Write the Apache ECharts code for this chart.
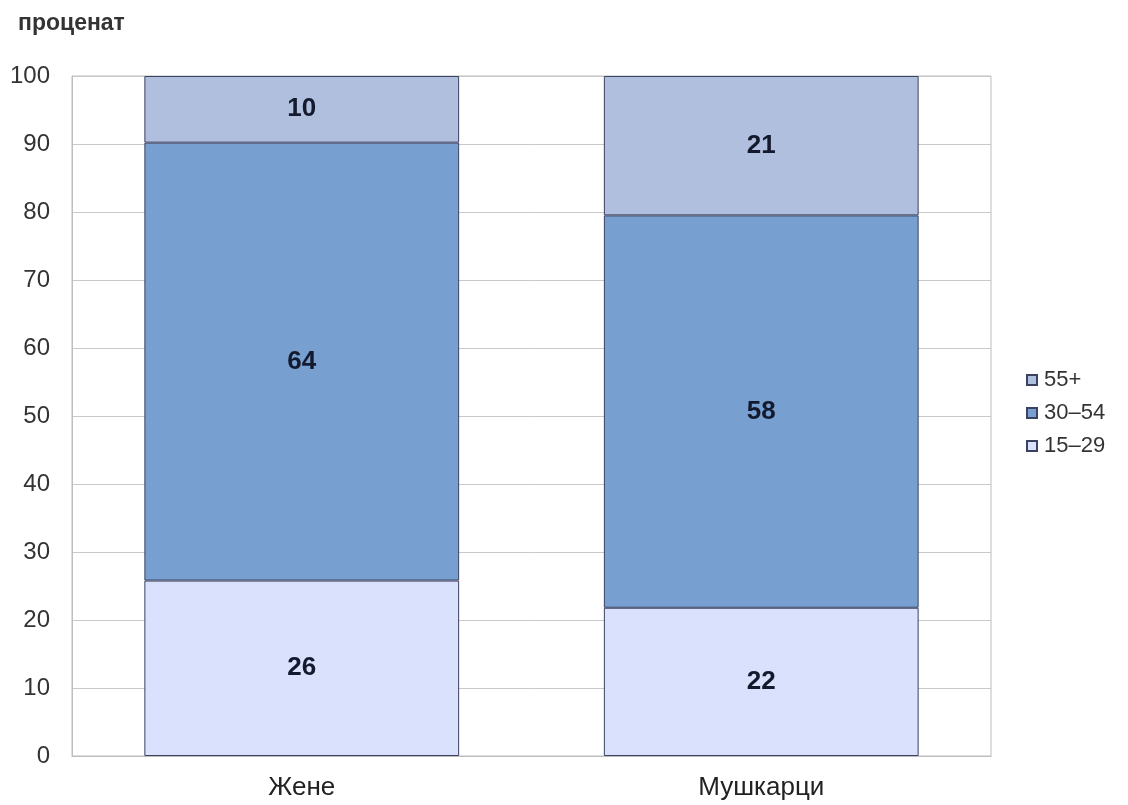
<!DOCTYPE html>
<html>
<head>
<meta charset="utf-8">
<script src="https://cdn.jsdelivr.net/npm/echarts@6/dist/echarts.min.js"></script>
<style>html,body{margin:0;padding:0;background:#fff}#c{width:1128px;height:805px}</style>
</head>
<body>
<div id="c"></div>
<script>
var categories = ['Жене', 'Мушкарци'];
var seriesNames = ['15–29', '30–54', '55+'];
var values1529 = [25.8, 21.8];
var values3054 = [64.4, 57.7];
var values55 = [9.8, 20.5];
var yTicks = [0, 10, 20, 30, 40, 50, 60, 70, 80, 90, 100];

var colors = {'15–29': '#d9e1fc', '30–54': '#779fd0', '55+': '#b0bfdd'};
var dataBySeries = {'15–29': values1529, '30–54': values3054, '55+': values55};

var chart = echarts.init(document.getElementById('c'));
var font = 'Liberation Sans, Arial, sans-serif';
chart.setOption({
  animation: false,
  backgroundColor: '#fff',
  title: {
    text: 'проценат', left: 13, top: 7,
    textStyle: {fontFamily: font, fontSize: 23, fontWeight: 'bold', color: '#333'}
  },
  legend: {
    orient: 'vertical', left: 1021, top: 364,
    data: ['55+', '30–54', '15–29'],
    itemWidth: 10, itemHeight: 10, itemGap: 11, icon: 'rect',
    textStyle: {fontFamily: font, fontSize: 22, color: '#333', padding: [0,0,0,2]}
  },
  grid: {left: 72, right: 137, top: 76, bottom: 49, show: true, borderColor: '#bdbdbd', borderWidth: 1},
  xAxis: {
    type: 'category', data: categories,
    axisLine: {lineStyle: {color: '#bdbdbd'}},
    axisTick: {show: false},
    axisLabel: {fontFamily: font, fontSize: 26, color: '#222', margin: 19}
  },
  yAxis: {
    type: 'value', min: yTicks[0], max: yTicks[yTicks.length - 1], interval: 10,
    axisLine: {show: true, lineStyle: {color: '#bdbdbd'}},
    axisTick: {show: false},
    splitLine: {lineStyle: {color: '#c8c8c8'}},
    axisLabel: {fontFamily: font, fontSize: 24, color: '#333', margin: 22}
  },
  series: seriesNames.map(function (n) {
    return {
      name: n, type: 'bar', stack: 'total', barWidth: '68.5%',
      data: dataBySeries[n],
      itemStyle: {color: colors[n], borderColor: '#3b4260', borderWidth: 1},
      label: {
        show: true, position: 'inside',
        fontFamily: font, fontSize: 26, fontWeight: 'bold', color: '#141a2e',
        formatter: function (p) { return Math.round(p.value); }
      }
    };
  })
});
</script>
</body>
</html>
